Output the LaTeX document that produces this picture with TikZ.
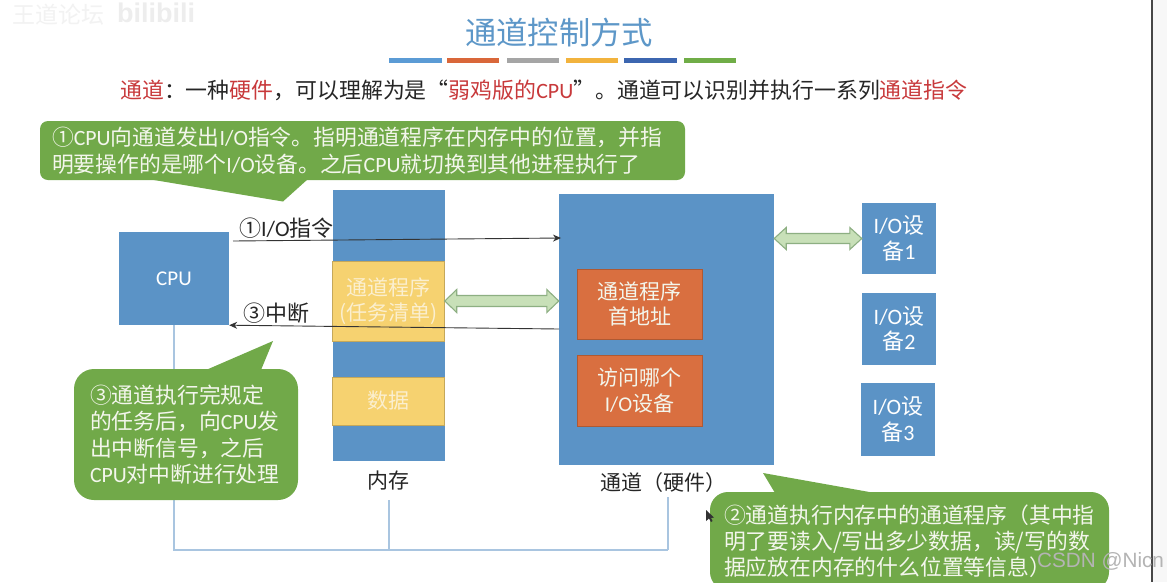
\documentclass[tikz,border=0pt]{standalone}
\usepackage{fontspec}
\setmainfont{Noto Sans CJK SC}
\newfontfamily\lat{Carlito}
\newfontfamily\wm{Liberation Sans}
\usetikzlibrary{calc,arrows.meta}
\definecolor{boxblue}{HTML}{5B93C6}
\definecolor{boxorange}{HTML}{D96F40}
\definecolor{boxyellow}{HTML}{F6D270}
\definecolor{callgreen}{HTML}{71A949}
\definecolor{fatfill}{HTML}{C8E0B8}
\definecolor{fatline}{HTML}{8DAF82}
\definecolor{busline}{HTML}{A9C5E0}
\definecolor{titleblue}{HTML}{5D97C8}
\definecolor{keyred}{HTML}{C8393B}
\definecolor{softtext}{HTML}{F3F6EC}
\definecolor{softyellow}{HTML}{FBEFCF}
\definecolor{csdngray}{HTML}{B4B4B4}
\newcommand{\fs}[1]{\fontsize{#1}{26.5}\selectfont}
\newcommand{\Lt}[1]{{\lat #1}}
\newcommand{\Rd}[1]{\textcolor{keyred}{#1}}
\tikzset{
  solidbox/.style={draw=none,fill=boxblue,inner sep=0pt,text=white,align=center,font=\fs{21}},
  orangebox/.style={solidbox,fill=boxorange,draw=boxorange!80!black,line width=.5pt,text=softtext},
  yellowbox/.style={solidbox,fill=boxyellow,draw=boxyellow!80!black,line width=.5pt,text=softyellow},
  devicebox/.style={solidbox,font=\fs{22},minimum width=74pt},
  callout/.style={fill=callgreen,text=softtext,inner sep=0pt,align=left,font=\fs{21.8}},
  calltail/.style={fill=callgreen,draw=none},
  label/.style={inner sep=0pt,text=black!85,font=\fs{21}},
  thinarrow/.style={draw=black!80,line width=.9pt,-{Stealth[length=8pt,width=7pt]}},
  busedge/.style={draw=busline,line width=1.1pt},
  fatarrow/.style={fill=fatfill,draw=fatline,line width=1.1pt,line join=miter},
  bar/.style={line width=5pt}
}
\newcommand{\fatconn}[4]{% start, end, half head, half shaft
  \draw[fatarrow] let \p1=(#1),\p2=(#2) in
   (\x1,\y1) -- (\x1+12pt,\y1+#3pt) -- (\x1+12pt,\y1+#4pt)
   -- (\x2-12pt,\y1+#4pt) -- (\x2-12pt,\y1+#3pt) -- (\x2,\y1)
   -- (\x2-12pt,\y1-#3pt) -- (\x2-12pt,\y1-#4pt)
   -- (\x1+12pt,\y1-#4pt) -- (\x1+12pt,\y1-#3pt) -- cycle;}
\begin{document}
\begin{tikzpicture}[x=1pt,y=-1pt]
\useasboundingbox (0,0) rectangle (1167,582);
\clip (0,0) rectangle (1167,582);
\fill[white] (0,0) rectangle (1167,582);
% window edge
\fill[black!3] (1153,0) rectangle (1167,582);
\draw[black!72,line width=2pt] (1152,0) -- (1152,582);
% title
\node[inner sep=0pt,text=titleblue,font=\fs{31.3}] (title) at (559,33) {通道控制方式};
\draw[bar,color={rgb,255:red,91;green,155;blue,213}] (389,60) -- (442,60);
\draw[bar,color={rgb,255:red,217;green,103;blue,58}] (447,60) -- (499,60);
\draw[bar,color={rgb,255:red,165;green,165;blue,165}] (507,60) -- (559,60);
\draw[bar,color={rgb,255:red,242;green,179;blue,61}] (566,60) -- (618,60);
\draw[bar,color={rgb,255:red,60;green,102;blue,176}] (624,60) -- (677,60);
\draw[bar,color={rgb,255:red,112;green,173;blue,71}] (684,60) -- (736,60);
\node[inner sep=0pt,anchor=west,text=black!85,font=\fs{21.9}] (intro) at (120,90)
 {\Rd{通道}：一种\Rd{硬件}，可以理解为是“\Rd{弱鸡版的\Lt{CPU}}”。通道可以识别并执行一系列\Rd{通道指令}};
% boxes
\node[solidbox,minimum width=110pt,minimum height=93pt] (cpu) at (174,278.5) {\Lt{CPU}};
\node[solidbox,minimum width=112pt,minimum height=271pt] (mem) at (389,325.5) {};
\node[yellowbox,minimum width=112pt,minimum height=80pt] (prog) at (388.5,301) {通道程序\\[-1pt](任务清单)};
\node[yellowbox,minimum width=112pt,minimum height=48pt] (data) at (388.5,401) {数据};
\node[solidbox,minimum width=215pt,minimum height=271pt] (chan) at (666.5,329.5) {};
\node[orangebox,minimum width=125pt,minimum height=70pt] (addr) at (639.5,304) {通道程序\\[-1pt]首地址};
\node[orangebox,minimum width=125pt,minimum height=71pt] (which) at (639.5,390.5) {访问哪个\\[-1pt]\Lt{I/O}设备};
\node[devicebox,minimum height=71pt] (io1) at (899,238.5) {\Lt{I/O}设\\[-1pt]备\Lt{1}};
\node[devicebox,minimum height=72pt] (io2) at (899,329) {\Lt{I/O}设\\[-1pt]备\Lt{2}};
\node[devicebox,minimum height=73pt] (io3) at (898,419.5) {\Lt{I/O}设\\[-1pt]备\Lt{3}};
\node[label] (memlab) at (388,481) {内存};
\node[label] (chanlab) at (663,483) {通道（硬件）};
% bus
\coordinate (busend) at (668,550);
\draw[busedge] (cpu.south) |- (busend);
\draw[busedge] (busend) -- (668,497);
\draw[busedge] (389,500) -- (389,550);
% arrows
\coordinate (ioout) at (233,241);
\coordinate (ioin) at (561,238);
\coordinate (intout) at (559,329);
\draw[thinarrow] (ioout) -- (ioin);
\draw[thinarrow] (intout) -- (cpu.south east);
\fatconn{prog.east}{prog.east -| chan.west}{11.5}{5.5}
\fatconn{io1.west -| chan.east}{io1.west}{11}{5}
\node[inner sep=0pt,anchor=west,text=black!85,font=\fs{22}] (iolab) at (239,228) {①\Lt{I/O}指令};
\node[inner sep=0pt,anchor=west,text=black!85,font=\fs{22}] (intlab) at (243,313) {③中断};
% callouts
\fill[calltail] (148,179) -- (283,201.5) -- (308,179) -- cycle;
\node[callout,rounded corners=8pt,minimum width=645pt,minimum height=59pt,text width=621pt] (c1) at (362.5,150.5)
 {①\Lt{CPU}向通道发出\Lt{I/O}指令。指明通道程序在内存中的位置，并指\\明要操作的是哪个\Lt{I/O}设备。之后\Lt{CPU}就切换到其他进程执行了};
\fill[calltail] (206,370) -- (273,341) -- (261,370) -- cycle;
\node[callout,rounded corners=20pt,minimum width=224pt,minimum height=131pt,text width=192pt] (c3) at (186,434.5)
 {③通道执行完规定\\的任务后，向\Lt{CPU}发\\出中断信号，之后\\\Lt{CPU}对中断进行处理};
\fill[calltail] (775,493) -- (763,473) -- (875,493) -- cycle;
\node[callout,rounded corners=18pt,minimum width=399pt,minimum height=98pt,text width=371pt] (c2) at (909.5,541)
 {\raisebox{1pt}{②通道执行内存中的通道程序（其中指}\\\raisebox{1pt}{明了要读入/写出多少数据，读/写的数}\\\raisebox{1.5pt}{据应放在内存的什么位置等信息）}};
% pointer
\fill[black!80] (706,510) -- (706,521) -- (709,518.5) -- (711,522) -- (712.5,521) -- (711,518) -- (714,517.5) -- cycle;
% watermarks
\node[inner sep=0pt,anchor=west,text=csdngray,font=\wm\fontsize{20.7}{24}\selectfont] (csdn) at (1037,561) {CSDN @Nicn};
\node[inner sep=0pt,anchor=west,text=black!5,font=\fs{23}] (wmark) at (12,15) {王道论坛};
\node[inner sep=0pt,anchor=west,text=black!7,font=\wm\bfseries\fontsize{27}{30}\selectfont] (bili) at (117,13) {bilibili};
\end{tikzpicture}
\end{document}
